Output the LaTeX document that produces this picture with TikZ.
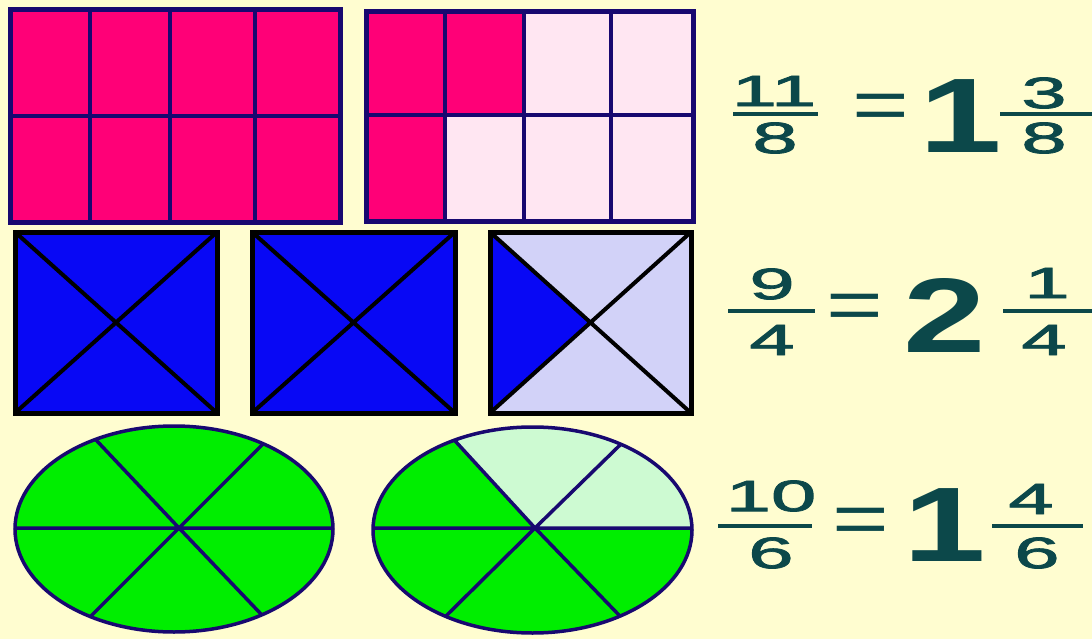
\documentclass[tikz,border=0pt]{standalone}
\usepackage{fontspec}
\setmainfont{Liberation Sans}
\newfontfamily\medsans[FakeBold=1.6]{Liberation Sans}
\usepackage{graphicx}
\definecolor{bg}{RGB}{255,253,208}
\definecolor{navy}{RGB}{24,8,112}
\definecolor{mag}{RGB}{255,0,119}
\definecolor{lpink}{RGB}{255,230,242}
\definecolor{blu}{RGB}{8,8,245}
\definecolor{lblu}{RGB}{210,210,248}
\definecolor{grn}{RGB}{0,238,0}
\definecolor{lgrn}{RGB}{205,250,210}
\definecolor{dteal}{RGB}{12,72,74}
\newcommand\xsmall[1]{\scalebox{1.85}[1]{#1}}
\newcommand\xbig[1]{\scalebox{1.4}[1]{#1}}
\newcommand\xeq[1]{\scalebox{1.35}[1]{#1}}
\tikzset{
 cell/.style={line width=4pt, draw=navy},
 outer/.style={line width=5pt, draw=navy},
 sq/.style={line width=4pt, draw=black},
 sqo/.style={line width=5pt, draw=black},
 ov/.style={line width=3.5pt, draw=navy},
 small/.style={inner sep=0pt, text=dteal, font=\fontsize{44}{44}\medsans},
 big/.style={inner sep=0pt, text=dteal, font=\fontsize{106}{106}\selectfont\bfseries},
 eqs/.style={inner sep=0pt, text=dteal, font=\fontsize{72}{72}\selectfont},
 fbar/.style={line width=4pt, draw=dteal},
}
\begin{document}
\begin{tikzpicture}[x=1pt,y=-1pt]
\fill[bg] (0,0) rectangle (1092,639);
\useasboundingbox (0,0) rectangle (1092,639);

% ---- rectangle 1: 8/8 ----
\fill[mag] (10,10) rectangle (340,223);
\draw[cell] (90,10) -- (90,223) (170,10) -- (170,223) (255,10) -- (255,223) (10,116) -- (340,116);
\draw[outer] (10,10) rectangle (340,223);

% ---- rectangle 2: 3/8 ----
\fill[lpink] (366,12) rectangle (693,222);
\fill[mag] (366,12) rectangle (524,115);
\fill[mag] (366,115) rectangle (445,222);
\draw[cell] (445,12) -- (445,222) (524,12) -- (524,222) (611,12) -- (611,222) (366,115) -- (693,115);
\draw[outer] (366,12) rectangle (693,222);

% ---- squares ----
\foreach \a/\b in {15/217,252/455}{
  \fill[blu] (\a,232) rectangle (\b,413);
  \draw[sq] (\a,232) -- (\b,413) (\b,232) -- (\a,413);
  \draw[sqo] (\a,232) rectangle (\b,413);
}
\fill[lblu] (490,232) rectangle (691,413);
\fill[blu] (490,232) -- (590.5,322.5) -- (490,413) -- cycle;
\draw[sq] (490,232) -- (691,413) (691,232) -- (490,413);
\draw[sqo] (490,232) rectangle (691,413);

% ---- ellipse 1 ----
\fill[grn] (174,529) ellipse [x radius=159, y radius=103];
\begin{scope}
  \clip (174,529) ellipse [x radius=159, y radius=103];
  \draw[ov] (179,528) -- ++(-164,-174) (179,528) -- ++(166,-166)
            (179,528) -- ++(-174,174) (179,528) -- ++(162,170)
            (0,528) -- (350,528);
\end{scope}
\draw[ov] (174,529) ellipse [x radius=159, y radius=103];

% ---- ellipse 2 ----
\fill[grn] (532.5,530) ellipse [x radius=159.5, y radius=103];
\begin{scope}
  \clip (532.5,530) ellipse [x radius=159.5, y radius=103];
  \fill[lgrn] (535,528) -- (379,358) -- (720,358) -- (720,528) -- cycle;
  \draw[ov] (535,528) -- ++(-156,-170) (535,528) -- ++(166,-162)
            (535,528) -- ++(-172,170) (535,528) -- ++(164,170)
            (360,528) -- (710,528);
\end{scope}
\draw[ov] (532.5,530) ellipse [x radius=159.5, y radius=103];

% ---- 11/8 = 1 3/8 ----
\node[small] (n1) at (774,91) {\xsmall{11}};
\node[small] (d1) at (775,138) {\xsmall{8}};
\draw[fbar] (733,114) -- (818,114);
\node[eqs] (e1) at (881,112) {\xeq{=}};
\node[big] (w1) at (961,116) {\xbig{1}};
\node[small] (fn1) at (1044,93) {\xsmall{3}};
\node[small] (fd1) at (1044,138) {\xsmall{8}};
\draw[fbar] (1000,114) -- (1092,114);

% ---- 9/4 = 2 1/4 ----
\node[small] (n2) at (772,284) {\xsmall{9}};
\node[small] (d2) at (772,340) {\xsmall{4}};
\draw[fbar] (728,311) -- (815,311);
\node[eqs] (e2) at (855,312) {\xeq{=}};
\node[big] (w2) at (945,315) {\xbig{2}};
\node[small] (fn2) at (1047,283) {\xsmall{1}};
\node[small] (fd2) at (1044,340) {\xsmall{4}};
\draw[fbar] (1003,311) -- (1092,311);

% ---- 10/6 = 1 4/6 ----
\node[small] (n3) at (771,496) {\xsmall{10}};
\node[small] (d3) at (771,553) {\xsmall{6}};
\draw[fbar] (718,526) -- (812,526);
\node[eqs] (e3) at (861,526) {\xeq{=}};
\node[big] (w3) at (945,525) {\xbig{1}};
\node[small] (fn3) at (1031,499) {\xsmall{4}};
\node[small] (fd3) at (1037,553) {\xsmall{6}};
\draw[fbar] (992,526) -- (1083,526);
\end{tikzpicture}
\end{document}
